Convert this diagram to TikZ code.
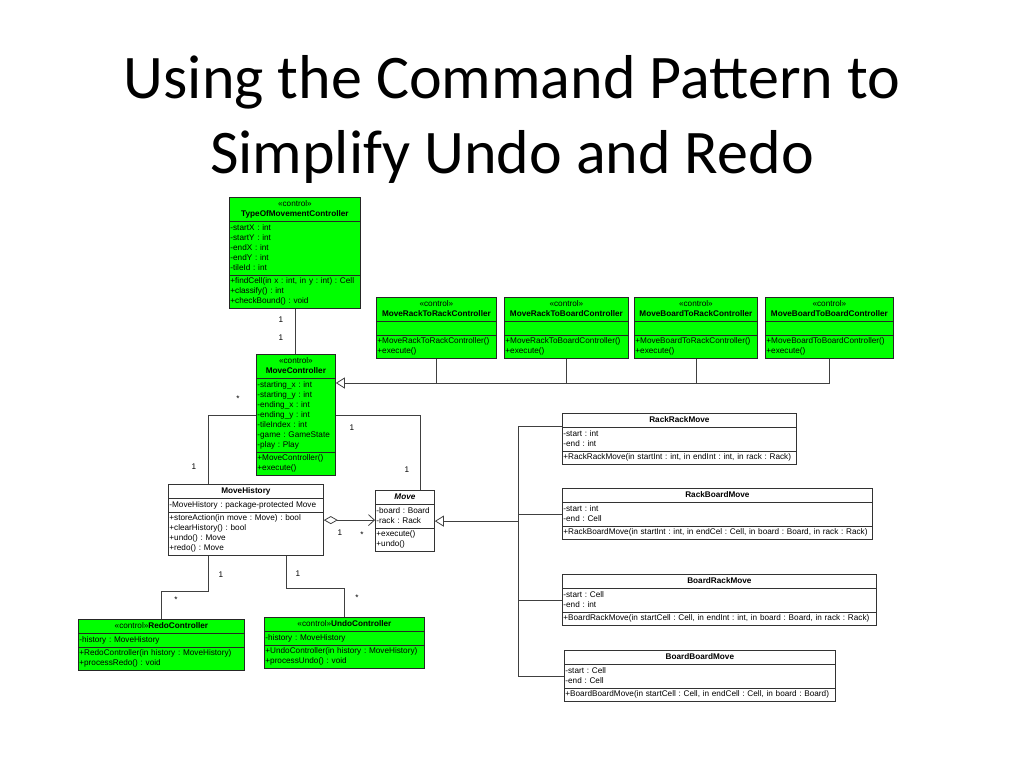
\documentclass[tikz,border=0pt]{standalone}
\usepackage{fontspec}
\setmainfont{Liberation Sans}
\newfontfamily\titlefont{Carlito}
\usepackage{tikz}
\usetikzlibrary{arrows.meta, shapes.multipart, calc}
\definecolor{umlgreen}{RGB}{0,255,0}

\begin{document}
\frenchspacing
\hyphenpenalty=10000
\begin{tikzpicture}[
    x=1pt, y=-1pt,
    umlclass/.style={rectangle split, rectangle split parts=3, draw=black!80, line width=0.8pt, fill=white, inner xsep=1pt, inner ysep=1.5pt, font=\fontsize{8.2}{10}\selectfont, align=left, anchor=north west},
    ctrlclass/.style={umlclass, fill=umlgreen, draw=black!85},
    umlline/.style={draw=black!75, line width=0.8pt},
    inherit/.style={umlline, -{Triangle[open, length=9pt, width=11pt]}},
    aggregate/.style={umlline, {Diamond[open, length=14pt, width=8pt]}-{Straight Barb[length=6pt, width=11pt]}},
    mult/.style={font=\fontsize{8.2}{10}\selectfont, inner sep=1pt},
    titletext/.style={font=\titlefont\fontsize{62}{75}\selectfont, anchor=base},
]
\useasboundingbox (0,0) rectangle (1024,768);

% Title
\node[titletext] (title1) at (512,98) {Using the Command Pattern to};
\node[titletext] (title2) at (512,173) {Simplify Undo and Redo};

% Controller classes
\node[ctrlclass, text width=129pt] (typeCtrl) at (229,197)
  {\centering\strut«control»\par\textbf{TypeOfMovementController}\strut\par
   \nodepart{two}\strut-startX : int\\-startY : int\\-endX : int\\-endY : int\\-tileId : int\strut
   \nodepart{three}\strut+findCell(in x : int, in y : int) : Cell\\+classify() : int\\+checkBound() : void\strut};

\node[ctrlclass, text width=118pt] (rrCtrl) at (376,297)
  {\centering\strut«control»\par\textbf{MoveRackToRackController}\strut\par
   \nodepart{two}\strut
   \nodepart{three}\strut+MoveRackToRackController()\\+execute()\strut};
\node[ctrlclass, text width=122pt] (rbCtrl) at (504,297)
  {\centering\strut«control»\par\textbf{MoveRackToBoardController}\strut\par
   \nodepart{two}\strut
   \nodepart{three}\strut+MoveRackToBoardController()\\+execute()\strut};
\node[ctrlclass, text width=121pt] (brCtrl) at (634,297)
  {\centering\strut«control»\par\textbf{MoveBoardToRackController}\strut\par
   \nodepart{two}\strut
   \nodepart{three}\strut+MoveBoardToRackController()\\+execute()\strut};
\node[ctrlclass, text width=126pt] (bbCtrl) at (765,297)
  {\centering\strut«control»\par\textbf{MoveBoardToBoardController}\strut\par
   \nodepart{two}\strut
   \nodepart{three}\strut+MoveBoardToBoardController()\\+execute()\strut};

\node[ctrlclass, text width=77pt] (moveCtrl) at (256,354)
  {\centering\strut«control»\par\textbf{MoveController}\strut\par
   \nodepart{two}\strut-starting\_x : int\\-starting\_y : int\\-ending\_x : int\\-ending\_y : int\\-tileIndex : int\\-game : GameState\\-play : Play\strut
   \nodepart{three}\strut+MoveController()\\+execute()\strut};

% History and moves
\node[umlclass, text width=153pt] (history) at (168,484)
  {\centering\strut\textbf{MoveHistory}\strut\par
   \nodepart{two}\strut-MoveHistory : package-protected Move\strut
   \nodepart{three}\strut+storeAction(in move : Move) : bool\\+clearHistory() : bool\\+undo() : Move\\+redo() : Move\strut};

\node[umlclass, text width=57pt] (move) at (375,490)
  {\centering\strut\textbf{\textit{Move}}\strut\par
   \nodepart{two}\strut-board : Board\\-rack : Rack\strut
   \nodepart{three}\strut+execute()\\+undo()\strut};

\node[ctrlclass, text width=164pt] (redo) at (78,619)
  {\centering\strut«control»\textbf{RedoController}\strut\par
   \nodepart{two}\strut-history : MoveHistory\strut
   \nodepart{three}\strut+RedoController(in history : MoveHistory)\\+processRedo() : void\strut};
\node[ctrlclass, text width=158pt] (undo) at (264,617)
  {\centering\strut«control»\textbf{UndoController}\strut\par
   \nodepart{two}\strut-history : MoveHistory\strut
   \nodepart{three}\strut+UndoController(in history : MoveHistory)\\+processUndo() : void\strut};

\node[umlclass, text width=232pt] (rrMove) at (562,413)
  {\centering\strut\textbf{RackRackMove}\strut\par
   \nodepart{two}\strut-start : int\\-end : int\strut
   \nodepart{three}\strut+RackRackMove(in startInt : int, in endInt : int, in rack : Rack)\strut};
\node[umlclass, text width=308pt] (rbMove) at (562,488)
  {\centering\strut\textbf{RackBoardMove}\strut\par
   \nodepart{two}\strut-start : int\\-end : Cell\strut
   \nodepart{three}\strut+RackBoardMove(in startInt : int, in endCel : Cell, in board : Board, in rack : Rack)\strut};
\node[umlclass, text width=312pt] (brMove) at (562,574)
  {\centering\strut\textbf{BoardRackMove}\strut\par
   \nodepart{two}\strut-start : Cell\\-end : int\strut
   \nodepart{three}\strut+BoardRackMove(in startCell : Cell, in endInt : int, in board : Board, in rack : Rack)\strut};
\node[umlclass, text width=269pt] (bbMove) at (564,650)
  {\centering\strut\textbf{BoardBoardMove}\strut\par
   \nodepart{two}\strut-start : Cell\\-end : Cell\strut
   \nodepart{three}\strut+BoardBoardMove(in startCell : Cell, in endCell : Cell, in board : Board)\strut};

% Bus points
\coordinate (ctrlBus) at ([yshift=-29pt]moveCtrl.north east);
\coordinate (moveBus) at ([xshift=84pt]move.east);

% Connectors
\draw[umlline] (typeCtrl.south) -- (typeCtrl.south |- moveCtrl.north);
\draw[inherit] (bbCtrl.south) |- (ctrlBus);
\draw[umlline] (rrCtrl.south) -- (rrCtrl.south |- ctrlBus);
\draw[umlline] (rbCtrl.south) -- (rbCtrl.south |- ctrlBus);
\draw[umlline] (brCtrl.south) -- (brCtrl.south |- ctrlBus);

\draw[umlline] (moveCtrl.west) -| ([xshift=-38pt]history.north);
\draw[umlline] (moveCtrl.east) -| ([xshift=15pt]move.north);
\draw[aggregate] (history.east) -- (history.east -| move.west);

\draw[inherit] ([yshift=13pt]rrMove.west) -| (moveBus) -- (move.east);
\draw[umlline] (bbMove.west) -| (moveBus);
\draw[umlline] (rbMove.west) -- (rbMove.west -| moveBus);
\draw[umlline] (brMove.west) -- (brMove.west -| moveBus);

\draw[umlline] ([xshift=-38pt]history.south) -- ++(0,35) -| (redo.north);
\draw[umlline] ([xshift=40pt]history.south) -- ++(0,32) -| (undo.north);

% Multiplicities
\node[mult] (mTop1) at (281,320) {1};
\node[mult] (mTop2) at (281,338) {1};
\node[mult] (mHistA) at (238,399) {*};
\node[mult] (mHistB) at (194,467) {1};
\node[mult] (mMoveA) at (352,428) {1};
\node[mult] (mMoveB) at (407,470) {1};
\node[mult] (mAggA) at (340,533) {1};
\node[mult] (mAggB) at (362,535) {*};
\node[mult] (mRedoA) at (221,575) {1};
\node[mult] (mRedoB) at (176,600) {*};
\node[mult] (mUndoA) at (298,574) {1};
\node[mult] (mUndoB) at (357,598) {*};

\end{tikzpicture}
\end{document}
